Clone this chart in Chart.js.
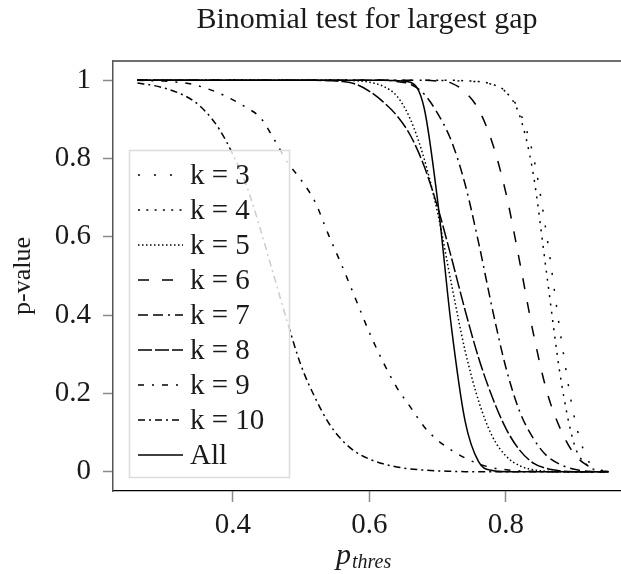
<!DOCTYPE html>
<html>
<head>
<meta charset="utf-8">
<script src="https://cdn.jsdelivr.net/npm/chart.js@4.4.0/dist/chart.umd.min.js"></script>
<style>
    html, body { margin: 0; padding: 0; background: #fff; }
    #wrap { width: 621px; height: 574px; }
</style>
</head>
<body>
<div id="wrap"><canvas id="gapChart" width="621" height="574"></canvas></div>
<script>
/* ==============================
   BINOMIAL TEST FOR LARGEST GAP
   ============================== */

// p_thres grid shared by every curve
const pThres = [0.26, 0.28, 0.30, 0.32, 0.34, 0.36, 0.38, 0.40, 0.42, 0.44, 0.46, 0.48,
                0.50, 0.52, 0.54, 0.56, 0.58, 0.60, 0.62, 0.64, 0.66, 0.68, 0.70, 0.72,
                0.74, 0.76, 0.78, 0.80, 0.82, 0.84, 0.86, 0.88, 0.90, 0.92, 0.94, 0.95];

// p-values, one array per k
const pK3  = [1, 1, 1, 1, 1, 1, 1, 1, 1, 1, 1, 1, 1, 1, 1, 1, 1, 1, 1, 1, 1, 1, 1,
              0.999, 0.998, 0.996, 0.989, 0.97, 0.92, 0.807, 0.60, 0.35, 0.14, 0.03, 0.004, 0.001];
const pK4  = [1, 1, 1, 1, 1, 1, 1, 1, 1, 1, 1, 1, 1, 1, 1, 1, 1, 1, 1, 1, 1, 1, 1, 1,
              0.999, 0.997, 0.99, 0.97, 0.91, 0.76, 0.5, 0.24, 0.07, 0.015, 0.002, 0];
const pK5  = [1, 1, 1, 1, 1, 1, 1, 1, 1, 1, 1, 1, 1, 1, 1, 1,
              0.999, 0.995, 0.985, 0.96, 0.9, 0.8, 0.66, 0.48, 0.31, 0.18, 0.09, 0.04,
              0.015, 0.005, 0.001, 0, 0, 0, 0, 0];
const pK6  = [1, 1, 1, 1, 1, 1, 1, 1, 1, 1, 1, 1, 1, 1, 1, 1, 1, 1, 1, 1, 1, 1,
              0.998, 0.993, 0.97, 0.925, 0.84, 0.711, 0.537, 0.354, 0.204, 0.108, 0.045, 0.015, 0.002, 0.0005];
const pK7  = [1, 1, 1, 1, 1, 1, 1, 1, 1, 1, 1, 1, 1, 1, 1, 1, 1, 1, 1,
              0.997, 0.99, 0.965, 0.915, 0.845, 0.735, 0.584, 0.416, 0.265, 0.154, 0.085,
              0.04, 0.018, 0.006, 0.001, 0, 0];
const pK8  = [1, 1, 1, 1, 1, 1, 1, 1, 1, 1, 1, 1, 1, 1,
              0.999, 0.997, 0.99, 0.972, 0.945, 0.91, 0.859, 0.781, 0.675, 0.547, 0.413, 0.29,
              0.19, 0.11, 0.055, 0.022, 0.008, 0.002, 0, 0, 0, 0];
const pK9  = [1, 0.999, 0.998, 0.995, 0.99, 0.98, 0.967, 0.95, 0.93, 0.905, 0.85, 0.79,
              0.745, 0.69, 0.605, 0.525, 0.44, 0.355, 0.28, 0.215, 0.165, 0.115, 0.08, 0.055,
              0.035, 0.02, 0.01, 0.005, 0.002, 0.001, 0, 0, 0, 0, 0, 0];
const pK10 = [0.993, 0.988, 0.98, 0.968, 0.95, 0.92, 0.875, 0.81, 0.73, 0.62, 0.50, 0.38,
              0.27, 0.19, 0.125, 0.08, 0.05, 0.032, 0.02, 0.012, 0.007, 0.004, 0.002, 0.001,
              0, 0, 0, 0, 0, 0, 0, 0, 0, 0, 0, 0];
const pAll = [1, 1, 1, 1, 1, 1, 1, 1, 1, 1, 1, 1, 1, 1, 1, 1, 1, 1, 1,
              0.999, 0.995, 0.93, 0.69, 0.37, 0.13, 0.025, 0.003, 0, 0, 0, 0, 0, 0, 0, 0, 0];

const seriesLabels = ['k = 3', 'k = 4', 'k = 5', 'k = 6', 'k = 7', 'k = 8', 'k = 9', 'k = 10', 'All'];
const seriesValues = [pK3, pK4, pK5, pK6, pK7, pK8, pK9, pK10, pAll];
const seriesDashes = [[2, 14], [2, 6.3], [1.5, 2.5], [11, 13], [10, 5, 10, 5, 2, 5], [14, 3], [6, 8, 2, 8], [7, 4, 2, 4], []];

const xTickVals = [0.4, 0.6, 0.8];
const xTickLabels = ['0.4', '0.6', '0.8'];
const yTickVals = [0, 0.2, 0.4, 0.6, 0.8, 1];
const yTickLabels = ['0', '0.2', '0.4', '0.6', '0.8', '1'];

const chartTitle = 'Binomial test for largest gap';
const yTitle = 'p-value';
const xTitleMain = 'p';
const xTitleSub = 'thres';

const SERIF = '"Liberation Serif", "Times New Roman", serif';
const INK = '#1a1a1a';

// frame line on top, the legend box and the x title
const extras = {
    id: 'extras',
    afterDatasetsDraw(chart) {
        const ctx = chart.ctx;
        const a = chart.chartArea;
        ctx.save();

        ctx.strokeStyle = '#6e6e6e';
        ctx.lineWidth = 2;
        ctx.beginPath();
        ctx.moveTo(a.left, a.top);
        ctx.lineTo(chart.width, a.top);
        ctx.stroke();

        // legend
        const bx = 129.5, by = 150.5, bw = 160, bh = 327;
        ctx.fillStyle = 'rgba(255,255,255,0.8)';
        ctx.fillRect(bx, by, bw, bh);
        ctx.strokeStyle = '#dcdcdc';
        ctx.lineWidth = 1.5;
        ctx.strokeRect(bx, by, bw, bh);

        ctx.font = '29px ' + SERIF;
        ctx.textBaseline = 'middle';
        ctx.textAlign = 'left';
        seriesLabels.forEach((lab, i) => {
            const yy = 175 + i * 35;
            ctx.strokeStyle = '#000';
            ctx.lineWidth = 1.5;
            ctx.setLineDash(seriesDashes[i]);
            ctx.beginPath();
            ctx.moveTo(138, yy);
            ctx.lineTo(183, yy);
            ctx.stroke();
            ctx.setLineDash([]);
            ctx.fillStyle = INK;
            ctx.fillText(lab, 190, yy + 1);
        });

        // x title: italic p with subscript
        ctx.fillStyle = INK;
        ctx.textBaseline = 'alphabetic';
        ctx.font = 'italic 30px ' + SERIF;
        ctx.fillText(xTitleMain, 336, 564);
        ctx.font = 'italic 20px ' + SERIF;
        ctx.fillText(xTitleSub, 352, 568);
        ctx.restore();
    }
};

const datasets = seriesLabels.map((lab, i) => ({
    label: lab,
    data: pThres.map((x, j) => ({ x: x, y: seriesValues[i][j] })),
    borderColor: '#000',
    borderWidth: 1.5,
    borderDash: seriesDashes[i],
    pointRadius: 0,
    showLine: true,
    fill: false,
    cubicInterpolationMode: 'monotone',
}));

new Chart(document.getElementById('gapChart'), {
    type: 'scatter',
    data: { datasets },
    options: {
        responsive: false,
        animation: false,
        devicePixelRatio: 1,
        layout: { padding: 0 },
        plugins: {
            legend: { display: false },
            tooltip: { enabled: false },
            title: {
                display: true,
                fullSize: false,
                text: chartTitle,
                color: INK,
                font: { family: SERIF, size: 30, weight: 'normal' },
                padding: { top: 2, bottom: 23 }
            }
        },
        scales: {
            x: {
                type: 'linear',
                min: 0.2242,
                max: 0.9685,
                afterBuildTicks: s => { s.ticks = xTickVals.map(v => ({ value: v })); },
                afterFit: s => { s.height = 83; },
                ticks: {
                    color: INK,
                    font: { family: SERIF, size: 29 },
                    padding: 6,
                    maxRotation: 0,
                    callback: (v, i) => xTickLabels[i]
                },
                grid: { drawOnChartArea: false, tickLength: 11, tickColor: '#8a8a8a', tickWidth: 1.5 },
                border: { display: true, color: '#000', width: 1.2 }
            },
            y: {
                type: 'linear',
                min: -0.0494,
                max: 1.0494,
                afterBuildTicks: s => { s.ticks = yTickVals.map(v => ({ value: v })); },
                afterFit: s => { s.width = 113; },
                ticks: {
                    color: INK,
                    font: { family: SERIF, size: 29 },
                    padding: 12,
                    callback: (v, i) => yTickLabels[i]
                },
                title: {
                    display: true,
                    text: yTitle,
                    color: INK,
                    font: { family: SERIF, size: 26 },
                    padding: { top: 8, bottom: 0 }
                },
                grid: { drawOnChartArea: false, tickLength: 10, tickColor: '#8a8a8a', tickWidth: 1.5 },
                border: { display: true, color: '#555', width: 1.5 }
            }
        }
    },
    plugins: [extras]
});
</script>
</body>
</html>
